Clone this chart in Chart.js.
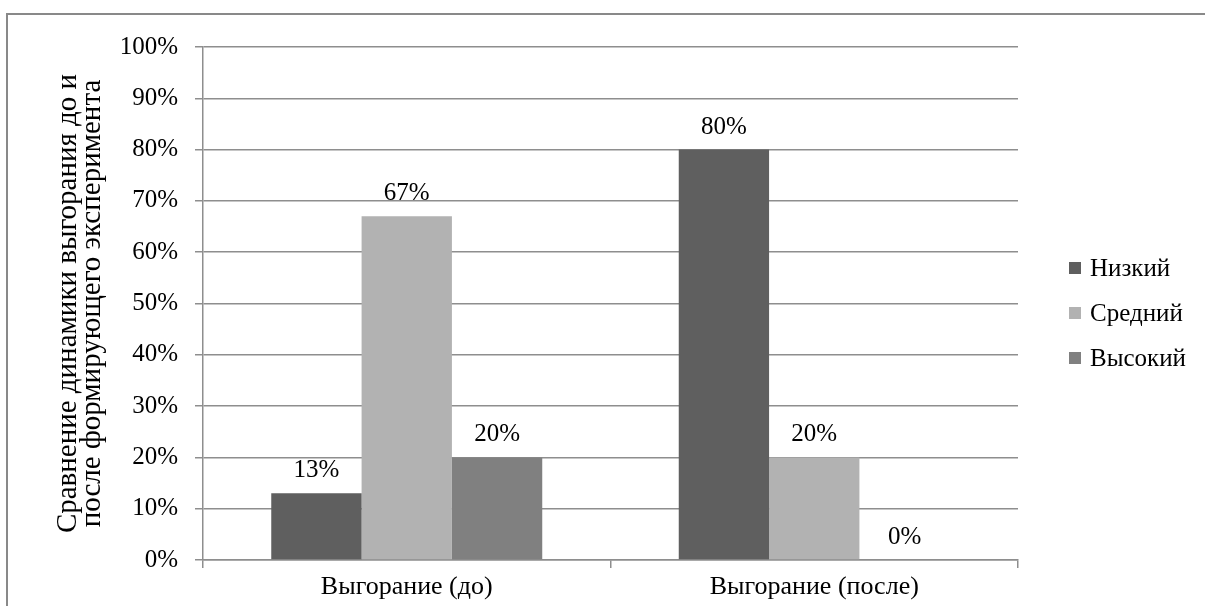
<!DOCTYPE html>
<html lang="ru">
<head>
<meta charset="utf-8">
<title>Выгорание</title>
<script src="https://cdn.jsdelivr.net/npm/chart.js@4/dist/chart.umd.min.js"></script>
<style>
  html, body { margin: 0; padding: 0; background: #ffffff; }
  #chart { display: block; }
</style>
</head>
<body>
<canvas id="chart" width="1205" height="606"></canvas>
<script>
// Категории и значения (в процентах)
const categories = ['Выгорание (до)', 'Выгорание (после)'];
const seriesNames = ['Низкий', 'Средний', 'Высокий'];
const lowValues = [13, 80];
const midValues = [67, 20];
const highValues = [20, 0];
const yTicks = [0, 10, 20, 30, 40, 50, 60, 70, 80, 90, 100];
const axisTitle = ['Сравнение динамики выгорания до и', 'после формирующего эксперимента'];

const seriesColors = ['#5f5f5f', '#b2b2b2', '#808080'];
const gridColor = '#8e8e8e';
const serif = "'Liberation Serif', 'Times New Roman', serif";
const textSize = 25;

// Рамка вокруг диаграммы
const framePlugin = {
  id: 'frame',
  beforeDraw(chart) {
    const ctx = chart.ctx;
    ctx.save();
    ctx.strokeStyle = '#898989';
    ctx.lineWidth = 2;
    ctx.strokeRect(7, 14, chart.width + 40, chart.height + 40);
    ctx.restore();
  }
};

// Подписи значений над столбцами
const valueLabels = {
  id: 'valueLabels',
  afterDatasetsDraw(chart) {
    const ctx = chart.ctx;
    ctx.save();
    ctx.font = textSize + 'px ' + serif;
    ctx.fillStyle = '#000000';
    ctx.textAlign = 'center';
    ctx.textBaseline = 'alphabetic';
    chart.data.datasets.forEach((ds, di) => {
      chart.getDatasetMeta(di).data.forEach((bar, i) => {
        ctx.fillText(ds.data[i] + '%', bar.x, bar.y - 16);
      });
    });
    ctx.restore();
  }
};

// Легенда справа от области построения
const sideLegend = {
  id: 'sideLegend',
  afterDraw(chart) {
    const ctx = chart.ctx;
    const boxX = 1069, textX = 1090, firstY = 268, step = 45, box = 12;
    ctx.save();
    ctx.font = textSize + 'px ' + serif;
    ctx.textBaseline = 'middle';
    ctx.textAlign = 'left';
    chart.data.datasets.forEach((ds, i) => {
      const cy = firstY + i * step;
      ctx.fillStyle = ds.backgroundColor;
      ctx.fillRect(boxX, cy - box / 2, box, box);
      ctx.fillStyle = '#000000';
      ctx.fillText(ds.label, textX, cy + 1);
    });
    ctx.restore();
  }
};

const datasets = [lowValues, midValues, highValues].map((vals, i) => ({
  label: seriesNames[i],
  data: vals,
  backgroundColor: seriesColors[i],
  borderWidth: 0,
  barPercentage: 1.0,
  categoryPercentage: 0.665
}));

new Chart(document.getElementById('chart'), {
  type: 'bar',
  data: { labels: categories, datasets },
  options: {
    responsive: false,
    animation: false,
    devicePixelRatio: 1,
    layout: { padding: { top: 47, right: 187, bottom: 0, left: 0 } },
    plugins: {
      legend: { display: false },
      tooltip: { enabled: false }
    },
    scales: {
      x: {
        grid: {
          offset: true,
          drawOnChartArea: false,
          drawTicks: true,
          tickLength: 8,
          color: gridColor,
          lineWidth: 1.5
        },
        border: { display: true, color: gridColor, width: 1.5 },
        ticks: {
          color: '#000000',
          font: { family: serif, size: 26 },
          padding: 4,
          maxRotation: 0
        },
        afterFit(scale) { scale.height = 46; }
      },
      y: {
        min: 0,
        max: 100,
        afterBuildTicks(scale) { scale.ticks = yTicks.map(v => ({ value: v })); },
        grid: {
          color: gridColor,
          lineWidth: 1.5,
          tickLength: 8
        },
        border: { display: true, color: gridColor, width: 1.5 },
        ticks: {
          color: '#000000',
          font: { family: serif, size: textSize },
          padding: 17,
          callback: v => v + '%'
        },
        title: {
          display: true,
          text: axisTitle,
          color: '#000000',
          font: { family: serif, size: 29, lineHeight: '24px' },
          padding: { top: 56, bottom: 0 }
        },
        afterFit(scale) { scale.width = 203; }
      }
    }
  },
  plugins: [framePlugin, valueLabels, sideLegend]
});
</script>
</body>
</html>
